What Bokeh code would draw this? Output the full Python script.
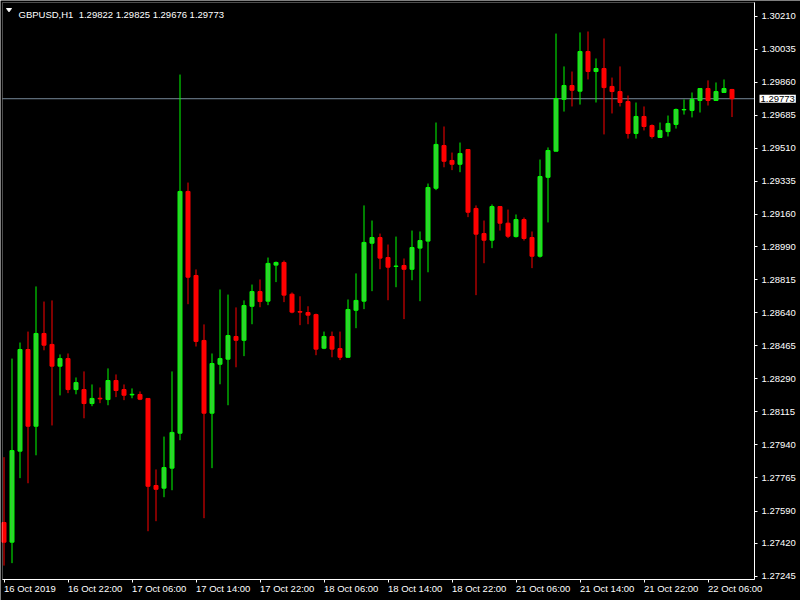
from bokeh.plotting import figure
from bokeh.models import (ColumnDataSource, FixedTicker, Label, BoxAnnotation,
                          PolyAnnotation, Range1d, PrintfTickFormatter, CustomJSTickFormatter)
from bokeh.embed import file_html
from bokeh.resources import INLINE

symbol = "GBPUSD,H1"

opens = [1.27529, 1.27425, 1.27907, 1.28445, 1.28039, 1.28530, 1.28472, 1.28357, 1.28397, 1.28233,
         1.28233, 1.28159, 1.28187, 1.28180, 1.28281, 1.28233, 1.28205, 1.28207, 1.28186, 1.27725,
         1.27711, 1.27817, 1.28002, 1.29282, 1.28837, 1.28493, 1.28108, 1.28367, 1.28394, 1.28514,
         1.28494, 1.28674, 1.28752, 1.28701, 1.28892, 1.28906, 1.28738, 1.28646, 1.28641, 1.28630,
         1.28452, 1.28514, 1.28450, 1.28404, 1.28653, 1.28701, 1.29008, 1.29038, 1.28932, 1.28885,
         1.28890, 1.28870, 1.28982, 1.29019, 1.29299, 1.29525, 1.29446, 1.29426, 1.29504, 1.29192,
         1.29059, 1.29024, 1.29202, 1.29114, 1.29043, 1.29133, 1.29038, 1.28939, 1.29357, 1.29495,
         1.29770, 1.29843, 1.29813, 1.30023, 1.29917, 1.29933, 1.29838, 1.29811, 1.29758, 1.29589,
         1.29679, 1.29631, 1.29568, 1.29599, 1.29637, 1.29714, 1.29711, 1.29764, 1.29827, 1.29764,
         1.29806, 1.29822]
highs = [1.27875, 1.28397, 1.28482, 1.28540, 1.28779, 1.28699, 1.28705, 1.28419, 1.28424, 1.28297,
         1.28329, 1.28260, 1.28244, 1.28345, 1.28313, 1.28260, 1.28239, 1.28223, 1.28188, 1.27810,
         1.27984, 1.28329, 1.29901, 1.29329, 1.28869, 1.28578, 1.28424, 1.28763, 1.28736, 1.28668,
         1.28705, 1.28789, 1.28816, 1.28932, 1.28911, 1.28916, 1.28747, 1.28727, 1.28674, 1.28635,
         1.28540, 1.28540, 1.28540, 1.28710, 1.28848, 1.29208, 1.29128, 1.29059, 1.29001, 1.29043,
         1.28927, 1.29075, 1.29070, 1.29324, 1.29647, 1.29626, 1.29488, 1.29541, 1.29507, 1.29208,
         1.29128, 1.29213, 1.29205, 1.29186, 1.29160, 1.29144, 1.29070, 1.29451, 1.29515, 1.30118,
         1.29944, 1.29917, 1.30124, 1.30129, 1.29986, 1.30092, 1.29885, 1.29944, 1.29790, 1.29753,
         1.29732, 1.29637, 1.29647, 1.29684, 1.29721, 1.29769, 1.29806, 1.29828, 1.29870, 1.29859,
         1.29875, 1.29825]
lows = [1.27301, 1.27314, 1.27764, 1.27737, 1.27885, 1.28441, 1.28043, 1.28202, 1.28214, 1.28208,
        1.28081, 1.28145, 1.28161, 1.28150, 1.28193, 1.28177, 1.28187, 1.28177, 1.27483, 1.27536,
        1.27663, 1.27700, 1.27965, 1.28685, 1.28461, 1.27552, 1.27817, 1.28261, 1.28150, 1.28351,
        1.28410, 1.28579, 1.28669, 1.28680, 1.28802, 1.28696, 1.28637, 1.28574, 1.28579, 1.28415,
        1.28447, 1.28404, 1.28389, 1.28403, 1.28558, 1.28659, 1.28754, 1.28870, 1.28706, 1.28775,
        1.28606, 1.28812, 1.28701, 1.28854, 1.29289, 1.29410, 1.29395, 1.29384, 1.29146, 1.28733,
        1.28902, 1.28982, 1.29075, 1.29035, 1.29038, 1.29022, 1.28876, 1.28932, 1.29118, 1.29495,
        1.29705, 1.29732, 1.29742, 1.29875, 1.29753, 1.29584, 1.29695, 1.29732, 1.29562, 1.29562,
        1.29605, 1.29562, 1.29566, 1.29573, 1.29615, 1.29689, 1.29674, 1.29700, 1.29737, 1.29763,
        1.29805, 1.29676]
closes = [1.27425, 1.27910, 1.28445, 1.28039, 1.28530, 1.28468, 1.28357, 1.28397, 1.28233, 1.28270,
          1.28159, 1.28186, 1.28184, 1.28281, 1.28228, 1.28203, 1.28208, 1.28182, 1.27721, 1.27705,
          1.27820, 1.28006, 1.29282, 1.28828, 1.28488, 1.28108, 1.28371, 1.28397, 1.28519, 1.28494,
          1.28678, 1.28752, 1.28699, 1.28901, 1.28906, 1.28733, 1.28643, 1.28643, 1.28627, 1.28447,
          1.28514, 1.28447, 1.28404, 1.28657, 1.28705, 1.29012, 1.29038, 1.28929, 1.28881, 1.28887,
          1.28870, 1.28985, 1.29022, 1.29303, 1.29531, 1.29442, 1.29426, 1.29483, 1.29172, 1.29056,
          1.29024, 1.29202, 1.29114, 1.29045, 1.29133, 1.29033, 1.28939, 1.29361, 1.29499, 1.29774,
          1.29843, 1.29818, 1.30023, 1.29917, 1.29933, 1.29832, 1.29811, 1.29753, 1.29589, 1.29679,
          1.29626, 1.29573, 1.29605, 1.29642, 1.29716, 1.29716, 1.29769, 1.29827, 1.29764, 1.29811,
          1.29827, 1.29773]

price_ticks = [1.30210, 1.30035, 1.29860, 1.29685, 1.29510, 1.29335, 1.29160, 1.28990, 1.28815,
               1.28640, 1.28465, 1.28290, 1.28115, 1.27940, 1.27765, 1.27590, 1.27420, 1.27245]
time_tick_bars = [0, 8, 16, 24, 32, 40, 48, 56, 64, 72, 80, 88]
time_tick_labels = ["16 Oct 2019", "16 Oct 22:00", "17 Oct 06:00", "17 Oct 14:00",
                    "17 Oct 22:00", "18 Oct 06:00", "18 Oct 14:00", "18 Oct 22:00",
                    "21 Oct 06:00", "21 Oct 14:00", "21 Oct 22:00", "22 Oct 06:00"]

UP_FILL, UP_LINE = "#32CD32", "#00FF00"
DN_FILL, DN_LINE = "#FF0000", "#FF0000"
BID_LINE = "#778899"
FONT = "Liberation Sans"
FS = "9.5px"

# layout: the whole 800x600 canvas is the Bokeh frame; the chart area is a box inside it
X_VIEW = (-0.4375, 99.5625)          # bar-index range of the whole canvas
Y_VIEW = (1.271161, 1.302931)        # price range of the whole canvas
AREA_X = (-0.1875, 93.8125)          # chart area (inside the white box)
AREA_Y = (1.272273, 1.302825)

n = len(opens)
idx = list(range(n))
up = [c >= o for o, c in zip(opens, closes)]
src = ColumnDataSource(dict(
    x=idx, o=opens, h=highs, l=lows, c=closes,
    top=[max(o, c) for o, c in zip(opens, closes)],
    bot=[min(o, c) for o, c in zip(opens, closes)],
    fill=[UP_FILL if u else DN_FILL for u in up],
    line=[UP_LINE if u else DN_LINE for u in up],
))

p = figure(width=800, height=600, output_backend="svg", toolbar_location=None,
           x_axis_location="below", y_axis_location="right",
           x_range=Range1d(*X_VIEW), y_range=Range1d(*Y_VIEW),
           min_border_left=0, min_border_top=0, min_border_right=0, min_border_bottom=0,
           background_fill_color="black", border_fill_color="black",
           outline_line_color=None)
p.styles = {"position": "absolute", "left": "0px", "top": "0px"}
p.grid.visible = False

# bid line across the chart area
p.segment(x0=[AREA_X[0]], y0=[closes[-1]], x1=[AREA_X[1]], y1=[closes[-1]],
          line_color=BID_LINE, line_width=1)

# candles
p.segment(x0="x", y0="l", x1="x", y1="h", source=src, line_color="line", line_width=1)
p.vbar(x="x", top="top", bottom="bot", width=0.5, source=src,
       fill_color="fill", line_color="line", line_width=1)

# chart-area border
p.add_layout(BoxAnnotation(left=AREA_X[0], right=AREA_X[1], bottom=AREA_Y[0], top=AREA_Y[1],
                           fill_color=None, line_color="white", line_width=1))

# price axis on the right edge of the chart area
ya = p.yaxis[0]
ya.fixed_location = AREA_X[1]
ya.bounds = AREA_Y
ya.ticker = FixedTicker(ticks=price_ticks)
ya.formatter = PrintfTickFormatter(format="%.5f")
ya.axis_line_color = "white"
ya.major_tick_line_color = "white"
ya.major_tick_out = 3
ya.major_tick_in = 0
ya.minor_tick_line_color = None
ya.major_label_standoff = 4
ya.major_label_text_color = "white"
ya.major_label_text_font = FONT
ya.major_label_text_font_size = FS

# time axis along the bottom edge, labels left-aligned at their ticks
xa = p.xaxis[0]
xa.fixed_location = AREA_Y[0]
xa.bounds = AREA_X
xa.ticker = FixedTicker(ticks=time_tick_bars)
xa.major_label_overrides = {b: t for b, t in zip(time_tick_bars, time_tick_labels)}
xa.axis_line_color = "white"
xa.major_tick_line_color = "white"
xa.major_tick_out = 3
xa.major_tick_in = 0
xa.minor_tick_line_color = None
xa.major_label_orientation = -1e-6
xa.major_label_standoff = 6
xa.major_label_text_color = "white"
xa.major_label_text_font = FONT
xa.major_label_text_font_size = FS

# header
title = f"{symbol}\u00a0 {opens[-1]:.5f} {highs[-1]:.5f} {lows[-1]:.5f} {closes[-1]:.5f}"
p.add_layout(Label(x=18, y=586, x_units="screen", y_units="screen", text=title,
                   text_align="left", text_baseline="alphabetic", text_color="white",
                   text_font=FONT, text_font_size=FS))
p.add_layout(PolyAnnotation(xs=[6, 11, 8.5], ys=[592, 592, 588.7], xs_units="screen",
                            ys_units="screen", fill_color="white", fill_alpha=1,
                            line_color="white", line_alpha=1))

# current price tag
p.add_layout(Label(x=759, y=closes[-1], x_units="screen", y_units="data",
                   text=f"{closes[-1]:.5f}", text_align="left", text_baseline="middle",
                   text_color="black", background_fill_color="white", padding=1,
                   text_font=FONT, text_font_size=FS))

open("out.html", "w").write(file_html(p, INLINE))
